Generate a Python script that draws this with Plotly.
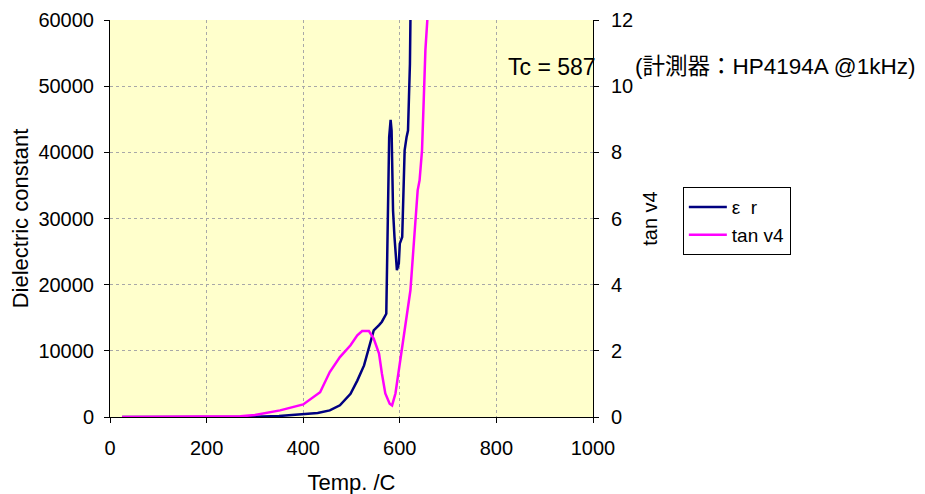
import plotly.graph_objects as go

# dielectric constant (epsilon r) vs temperature
temp_eps = [25, 100, 200, 300, 350, 400, 430, 455, 476, 498, 512, 526, 536, 546, 557, 563, 572,
            574, 576, 578, 581, 583, 584, 586, 589, 592, 594, 598, 600, 605, 607, 610, 614, 617,
            619, 621, 622, 626]
eps_r = [0, 0, 0, 50, 150, 400, 600, 1000, 1760, 3500, 5500, 7800, 10600, 13100, 13900, 14400, 15600,
         23700, 31200, 42300, 44900, 43300, 39300, 31200, 27200, 23200, 22200, 23200, 26200, 27200, 32300,
         40300, 42300, 43300, 48400, 53400, 60000, 66000]

# tan delta vs temperature
temp_tan = [25, 100, 200, 270, 300, 352, 400, 435, 455, 476, 498, 512, 522, 536, 546, 557, 563, 570,
            579, 584, 591, 598, 605, 614, 622, 628, 632, 637, 641, 646, 650, 653, 657, 660]
tan_d = [0, 0, 0, 0.02, 0.06, 0.2, 0.38, 0.75, 1.36, 1.81, 2.17, 2.47, 2.6, 2.6, 2.37, 1.92, 1.31, 0.71,
         0.40, 0.35, 0.71, 1.41, 2.22, 3.02, 3.83, 5.04, 5.95, 6.85, 7.16, 8.06, 9.78, 11.09, 12.0, 13.0]

FONT = "Arial, Liberation Sans, Noto Sans CJK JP, sans-serif"
GRID = dict(showgrid=True, gridcolor="#A8A8A8", gridwidth=1, griddash="dot")
AX = dict(showline=True, linecolor="black", linewidth=1, ticks="outside", ticklen=5,
          tickcolor="black", zeroline=False, automargin=False)

fig = go.Figure()
fig.add_trace(go.Scatter(x=temp_eps, y=eps_r, mode="lines", name="ε\u00a0\u00a0r",
                         line=dict(color="#000080", width=2.5)))
fig.add_trace(go.Scatter(x=temp_tan, y=tan_d, mode="lines", name="tan v4", yaxis="y2",
                         line=dict(color="#FF00FF", width=2.5)))

fig.update_layout(
    width=925, height=494,
    margin=dict(l=102, r=340, t=12, b=85),
    paper_bgcolor="white",
    plot_bgcolor="#FFFFCC",
    font=dict(family=FONT, size=20, color="black"),
    showlegend=True,
    legend=dict(x=1.186, y=0.579, xanchor="left", yanchor="top",
                bgcolor="white", bordercolor="black", borderwidth=1,
                font=dict(size=19), tracegroupgap=0, itemwidth=38),
    xaxis=dict(range=[0, 1000], dtick=200, ticklabelstandoff=8, **GRID, **AX,
               title=dict(text="Temp. /C", font=dict(size=22), standoff=16)),
    yaxis=dict(range=[0, 60000], dtick=10000, tickformat="d", ticklabelstandoff=6, **GRID, **AX,
               title=dict(text="Dielectric constant", font=dict(size=22), standoff=6)),
    yaxis2=dict(range=[0, 12], dtick=2, overlaying="y", side="right", showgrid=False,
                ticklabelstandoff=8, **AX,
                title=dict(text="tan v4", font=dict(size=20), standoff=10)),
    annotations=[
        dict(text="Tc = 587", xref="paper", yref="paper", x=1.01, y=0.882,
             xanchor="right", yanchor="middle", showarrow=False, font=dict(size=23)),
        dict(text="(計測器：HP4194A @1kHz)", xref="paper", yref="paper", x=1.083, y=0.882,
             xanchor="left", yanchor="middle", showarrow=False, font=dict(size=22.5)),
    ],
)

fig.write_html("out.html")
